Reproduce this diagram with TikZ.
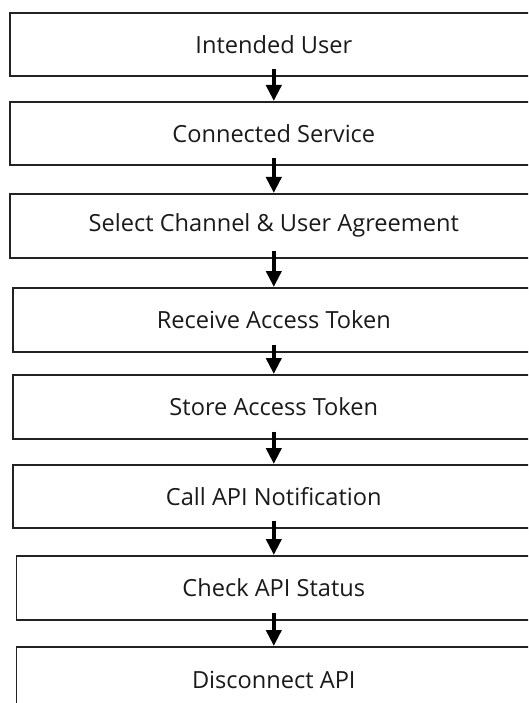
\documentclass[tikz,border=0pt]{standalone}
\usepackage{fontspec}
\setmainfont{Open Sans}
\usetikzlibrary{arrows.meta}
\definecolor{boxline}{HTML}{222222}
\definecolor{txt}{HTML}{1A1A1A}
\tikzset{
  stepbox/.style={draw=boxline, line width=1.6pt, fill=white, inner sep=0pt,
    minimum height=63pt, text=txt,
    font=\fontsize{23.6}{27}\selectfont},
  flowarrow/.style={draw=black, line width=4.5pt,
    -{Triangle[width=15pt,length=16pt]}, shorten >=0pt}
}
\begin{document}
\begin{tikzpicture}[x=1pt,y=-1pt]
\useasboundingbox (0,0) rectangle (528,703);
\fill[white] (0,0) rectangle (528,703);
\clip (0,0) rectangle (528,703);
\node[stepbox, minimum width=528pt, minimum height=63pt, anchor=north west] (b1) at (9,12) {\raisebox{-4.5pt}{Intended User}};
\node[stepbox, minimum width=528pt, minimum height=63pt, anchor=north west] (b2) at (9,101) {\raisebox{-4.5pt}{Connected Service}};
\node[stepbox, minimum width=528pt, minimum height=64pt, anchor=north west] (b3) at (9,193) {\raisebox{-4.5pt}{Select Channel \& User Agreement}};
\node[stepbox, minimum width=522pt, minimum height=64pt, anchor=north west] (b4) at (12,287) {\raisebox{-4.5pt}{Receive Access Token}};
\node[stepbox, minimum width=522pt, minimum height=64pt, anchor=north west] (b5) at (12,374) {\raisebox{-4.5pt}{Store Access Token}};
\node[stepbox, minimum width=522pt, minimum height=63pt, anchor=north west] (b6) at (12,464) {\raisebox{-4.5pt}{Call API Notification}};
\node[stepbox, minimum width=515pt, minimum height=64pt, anchor=north west] (b7) at (15.5,555) {\raisebox{-4.5pt}{Check API Status}};
\node[stepbox, minimum width=515pt, minimum height=66pt, anchor=north west] (b8) at (15.5,646) {\raisebox{-5.5pt}{Disconnect API}};
\foreach \a/\b in {b1/b2,b2/b3,b3/b4,b4/b5,b5/b6,b6/b7,b7/b8}{
  \draw[flowarrow] ([yshift=8pt]\a.south) -- (\b.north);
}
\end{tikzpicture}
\end{document}
